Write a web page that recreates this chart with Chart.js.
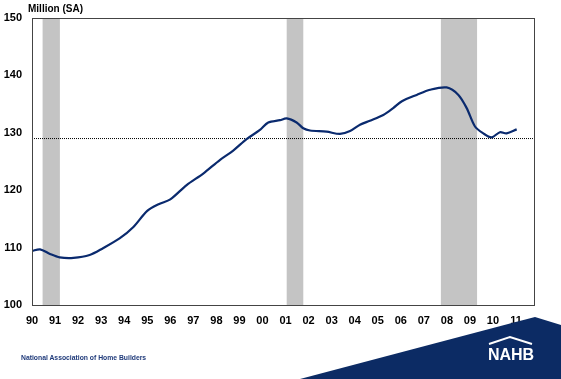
<!DOCTYPE html>
<html>
<head>
<meta charset="utf-8">
<script src="https://cdn.jsdelivr.net/npm/chart.js@4.4.0/dist/chart.umd.min.js"></script>
<style>
  body { margin: 0; background: #fff; }
  #wrap { position: relative; width: 561px; height: 379px; font-family: Arial, "Liberation Sans", sans-serif; }
  #unit { position: absolute; left: 28px; top: 3px; font-size: 10px; font-weight: bold; color: #000; }
  #foot { position: absolute; left: 21px; top: 354px; font-size: 6.8px; font-weight: bold; color: #1f3a7a; }
  #logo { position: absolute; left: 0; top: 0; }
</style>
</head>
<body>
<div id="wrap">
  <canvas id="myChart" width="561" height="379"></canvas>
  <div id="unit">Million (SA)</div>
  <div id="foot">National Association of Home Builders</div>
  <svg id="logo" width="561" height="379">
    <polygon points="535,317 561,325 561,379 300,379" fill="#0c2b64"/>
    <polyline points="489,344 510,337 532,344" fill="none" stroke="#fff" stroke-width="2"/>
    <text x="511" y="360" text-anchor="middle" fill="#fff" font-family="Arial, Liberation Sans, sans-serif" font-size="16" font-weight="bold">NAHB</text>
  </svg>
</div>
<script>
// payroll employment (decimal year, million)
const years = [1990.0, 1990.35, 1990.78, 1991.2, 1991.8, 1992.5, 1993.08, 1993.8, 1994.4, 1995.0,
    1995.52, 1996.0, 1996.71, 1997.43, 1998.16, 1998.73, 1999.31, 1999.89, 2000.25, 2000.76,
    2001.05, 2001.48, 2001.77, 2002.06, 2002.78, 2003.36, 2003.8, 2004.23, 2004.66, 2005.24,
    2005.67, 2006.05, 2006.69, 2007.27, 2007.99, 2008.5, 2008.86, 2009.22, 2009.58, 2009.94,
    2010.3, 2010.59, 2011.03];
const employment = [109.4, 109.7, 108.9, 108.3, 108.2, 108.7, 109.9, 111.6, 113.6, 116.4,
    117.6, 118.4, 120.9, 122.9, 125.3, 126.9, 128.9, 130.5, 131.8, 132.2,
    132.5, 131.8, 130.8, 130.4, 130.2, 129.8, 130.3, 131.4, 132.1, 133.1,
    134.3, 135.5, 136.6, 137.5, 137.9, 136.6, 134.3, 131.1, 129.9, 129.2,
    130.1, 129.9, 130.6];
const recessionStart = [1990.46, 2001.05, 2007.74];
const recessionEnd = [1991.21, 2001.77, 2009.31];
const refLevel = 129.0;
const xMin = 1990, xMax = 2011.78;
const xTicks = [1990, 1991, 1992, 1993, 1994, 1995, 1996, 1997, 1998, 1999, 2000,
    2001, 2002, 2003, 2004, 2005, 2006, 2007, 2008, 2009, 2010, 2011];
const yTicks = [100, 110, 120, 130, 140, 150];

const linePoints = years.map((y, i) => ({ x: y, y: employment[i] }));

const shading = {
    id: 'shading',
    beforeDatasetsDraw(chart) {
        const { ctx, chartArea, scales } = chart;
        ctx.save();
        ctx.fillStyle = '#c4c4c4';
        for (let i = 0; i < recessionStart.length; i++) {
            const a = scales.x.getPixelForValue(recessionStart[i]);
            const b = scales.x.getPixelForValue(recessionEnd[i]);
            ctx.fillRect(a, chartArea.top, b - a, chartArea.bottom - chartArea.top);
        }
        ctx.restore();
    },
    afterDraw(chart) {
        // box round the plot
        const { ctx, chartArea } = chart;
        ctx.save();
        ctx.strokeStyle = '#444';
        ctx.lineWidth = 1;
        ctx.strokeRect(chartArea.left + 0.5, chartArea.top + 0.5, chartArea.right - chartArea.left, chartArea.bottom - chartArea.top);
        ctx.restore();
    }
};

const ctx = document.getElementById('myChart');
new Chart(ctx, {
    type: 'line',
    data: {
        datasets: [
            {
                data: linePoints,
                borderColor: '#0a2a6e',
                borderWidth: 2.2,
                pointRadius: 0,
                tension: 0.3
            },
            {
                data: [{ x: xMin, y: refLevel }, { x: xMax, y: refLevel }],
                borderColor: '#000',
                borderWidth: 1,
                borderDash: [1, 1],
                pointRadius: 0
            }
        ]
    },
    options: {
        responsive: false,
        animation: false,
        layout: { padding: { top: 18, right: 27, left: 0, bottom: 0 } },
        plugins: { legend: { display: false }, tooltip: { enabled: false } },
        scales: {
            x: {
                type: 'linear',
                min: xMin,
                max: xMax,
                afterBuildTicks: (axis) => { axis.ticks = xTicks.map(v => ({ value: v })); },
                afterFit: (axis) => { axis.height = 74; },
                grid: { display: false, drawTicks: false },
                border: { display: false },
                ticks: {
                    padding: 9,
                    maxRotation: 0,
                    autoSkip: false,
                    color: '#000',
                    font: { family: 'Arial', size: 11, weight: 'bold' },
                    callback: (v) => String(v % 100).padStart(2, '0')
                }
            },
            y: {
                min: 100,
                max: 150,
                afterBuildTicks: (axis) => { axis.ticks = yTicks.map(v => ({ value: v })); },
                afterFit: (axis) => { axis.width = 32; },
                grid: { display: false, drawTicks: false },
                border: { display: false },
                ticks: {
                    padding: 10,
                    color: '#000',
                    font: { family: 'Arial', size: 11, weight: 'bold' }
                }
            }
        }
    },
    plugins: [shading]
});
</script>
</body>
</html>
